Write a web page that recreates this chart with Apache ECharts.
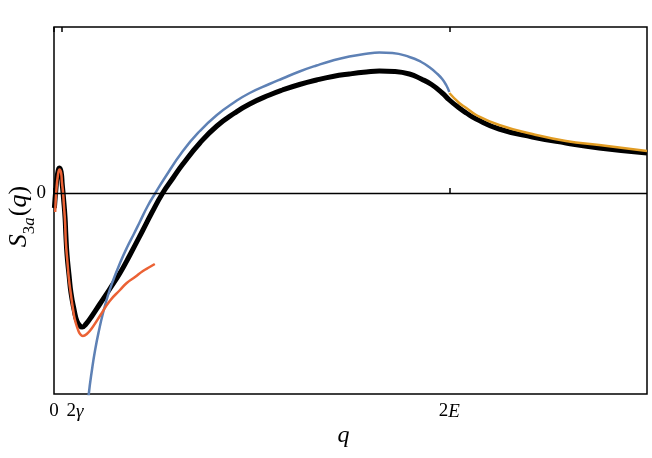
<!DOCTYPE html>
<html>
<head>
<meta charset="utf-8">
<script src="https://cdn.jsdelivr.net/npm/echarts@6/dist/echarts.min.js"></script>
<style>html,body{margin:0;padding:0;background:#fff}#c{width:652px;height:458px}</style>
</head>
<body>
<div id="c"></div>
<script>
// x in units of 2E (2E = 1), y in arbitrary units (0 = zero line)
const qTicks = [0, 0.02, 1];
const qTickLabels = ['0', '2γ', '2E'];
const yTicks = [0];
const yTickLabels = ['0'];

const blackX = [0.001,0.005,0.009,0.014,0.018,0.021,0.024,0.028,0.030,0.033,0.038,0.043,0.051,0.058,0.066,0.071,0.081,0.096,0.116,0.141,0.167,0.192,0.225,0.247,0.275,0.301,0.326,0.369,0.412,0.457,0.495,0.545,0.578,0.621,0.664,0.705,0.747,0.790,0.823,0.861,0.899,0.929,0.955,0.982,1.0,1.025,1.043,1.068,1.126,1.210,1.295,1.379,1.5];
const blackY = [-0.15,0.05,0.19,0.25,0.21,0.08,-0.05,-0.25,-0.42,-0.62,-0.82,-1.00,-1.17,-1.28,-1.33,-1.34,-1.31,-1.23,-1.11,-0.96,-0.80,-0.62,-0.37,-0.20,0,0.15,0.29,0.50,0.67,0.80,0.89,0.98,1.03,1.085,1.13,1.165,1.19,1.21,1.22,1.215,1.19,1.14,1.085,1.00,0.93,0.85,0.80,0.74,0.64,0.56,0.50,0.45,0.40];

const blueX = [0.085,0.088,0.096,0.104,0.114,0.124,0.136,0.149,0.167,0.184,0.202,0.217,0.237,0.255,0.280,0.326,0.369,0.412,0.457,0.495,0.545,0.578,0.621,0.664,0.705,0.747,0.790,0.823,0.856,0.899,0.929,0.949,0.970,0.982,0.992,1.0];
const blueY = [-2.17,-2.01,-1.77,-1.57,-1.37,-1.20,-1.03,-0.88,-0.70,-0.55,-0.41,-0.29,-0.13,-0.01,0.15,0.42,0.62,0.78,0.91,1.00,1.09,1.145,1.215,1.275,1.325,1.365,1.393,1.405,1.40,1.36,1.31,1.26,1.19,1.14,1.08,1.01];

const redX = [0.003,0.006,0.010,0.014,0.018,0.020,0.023,0.025,0.028,0.030,0.034,0.038,0.043,0.048,0.053,0.061,0.066,0.073,0.083,0.098,0.116,0.141,0.167,0.184,0.205,0.225,0.242,0.255];
const redY = [-0.19,0.03,0.18,0.235,0.20,0.11,0,-0.12,-0.29,-0.49,-0.69,-0.87,-1.02,-1.16,-1.27,-1.37,-1.41,-1.43,-1.41,-1.34,-1.23,-1.08,-0.97,-0.90,-0.84,-0.78,-0.74,-0.71];

const goldX = [1.0,1.025,1.043,1.068,1.126,1.210,1.295,1.379,1.5];
const goldY = [1.00,0.90,0.85,0.78,0.68,0.59,0.52,0.48,0.42];

const zip = (a, b) => a.map((v, i) => [v, b[i]]);
const serif = 'Liberation Serif';

const chart = echarts.init(document.getElementById('c'), null, {renderer: 'canvas'});
function qLabel(v) {
  const i = qTicks.findIndex(t => Math.abs(t - v) < 1e-9);
  if (i === 1) return '{g|2}{gi|γ}';
  if (i === 2) return '{n|2}{i|E}';
  return '{n|' + qTickLabels[i] + '}';
}
chart.setOption({
  animation: false,
  grid: {left: 54, right: 5, top: 27, bottom: 64, containLabel: false, outerBoundsMode: 'none', show: true, borderColor: '#000', borderWidth: 1.5, backgroundColor: 'transparent'},
  xAxis: [{
    type: 'value', min: 0, max: 1.5, position: 'bottom',
    axisLine: {show: false}, splitLine: {show: false},
    axisTick: {show: true, inside: true, length: 5, customValues: qTicks, lineStyle: {color: '#000', width: 1.5}},
    axisLabel: {
      customValues: qTicks, margin: 8, formatter: qLabel,
      rich: {
        n: {fontFamily: serif, fontSize: 19, color: '#000'},
        i: {fontFamily: serif, fontSize: 19, fontStyle: 'italic', color: '#000'},
        g: {fontFamily: serif, fontSize: 19, color: '#000', padding: [0, 0, 0, 26]},
        gi: {fontFamily: serif, fontSize: 19, fontStyle: 'italic', color: '#000'}
      }
    },
    name: 'q', nameLocation: 'middle', nameGap: 30, nameMoveOverlap: false,
    nameTextStyle: {fontFamily: serif, fontSize: 24, fontStyle: 'italic', color: '#000', padding: [0, 14, 0, 0]}
  }, {
    type: 'value', min: 0, max: 1.5, position: 'top',
    axisLine: {show: false}, splitLine: {show: false}, axisLabel: {show: false},
    axisTick: {show: true, inside: true, length: 5, customValues: qTicks, lineStyle: {color: '#000', width: 1.5}}
  }],
  yAxis: {
    type: 'value', min: -2.01, max: 1.66,
    axisLine: {show: false}, splitLine: {show: false},
    axisTick: {show: false},
    axisLabel: {customValues: yTicks, formatter: v => yTickLabels[0], fontFamily: serif, fontSize: 19, color: '#000', margin: 8},
    name: '{s|S}{sub|3}{subi|a}{r|(}{s|q}{r|)}', nameLocation: 'middle', nameRotate: 90, nameGap: 22, nameMoveOverlap: false,
    nameTextStyle: {
      padding: [0, 12, 0, 0],
      rich: {
        s: {fontFamily: serif, fontSize: 26, color: '#000', fontStyle: 'italic'},
        r: {fontFamily: serif, fontSize: 26, color: '#000'},
        sub: {fontFamily: serif, fontSize: 17, color: '#000', verticalAlign: 'bottom', padding: [0, 0, -6, 0]},
        subi: {fontFamily: serif, fontSize: 17, color: '#000', fontStyle: 'italic', verticalAlign: 'bottom', padding: [0, 1, -6, 0]}
      }
    }
  },
  series: [
    {type: 'line', data: zip(blackX, blackY), showSymbol: false, smooth: 0.5, lineStyle: {color: '#000', width: 5}, z: 2,
     markLine: {silent: true, symbol: 'none', label: {show: false}, lineStyle: {color: '#000', width: 1.3, type: 'solid'}, data: [{yAxis: 0}]}},
    {type: 'line', data: zip(blueX, blueY), showSymbol: false, smooth: 0.5, lineStyle: {color: '#5E81B5', width: 2.5}, z: 3},
    {type: 'line', data: zip(redX, redY), showSymbol: false, smooth: 0.5, lineStyle: {color: '#EB6235', width: 2.5}, z: 4},
    {type: 'line', data: zip(goldX, goldY), showSymbol: false, smooth: 0.5, lineStyle: {color: '#E19C24', width: 2.5}, z: 4}
  ]
});
</script>
</body>
</html>
